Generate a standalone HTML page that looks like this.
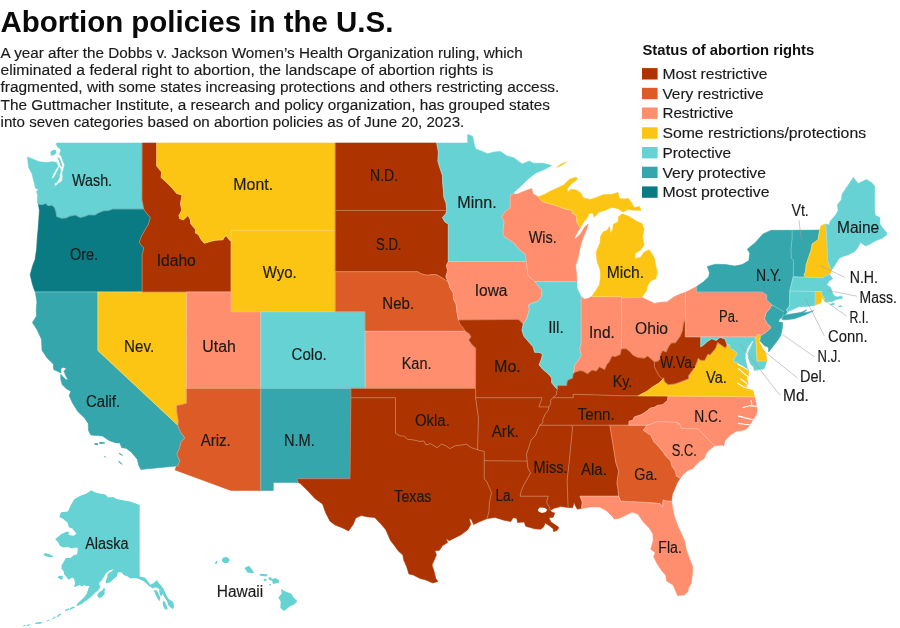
<!DOCTYPE html>
<html><head><meta charset="utf-8"><title>Abortion policies in the U.S.</title>
<style>
html,body{margin:0;padding:0;background:#fff}
body{width:900px;height:628px;overflow:hidden;font-family:"Liberation Sans",sans-serif}
svg{display:block}
text{font-family:"Liberation Sans",sans-serif;fill:#1a1a1a}
</style></head><body>
<svg style="will-change:transform" width="900" height="628" viewBox="0 0 900 628">
<rect width="900" height="628" fill="#ffffff"/>
<g stroke-linejoin="round">
<path d="M56.8,143.0 142.1,143.0 142.0,200.1 143.0,204.8 143.7,209.1 112.8,209.1 108.3,210.6 103.9,210.8 98.7,212.7 94.9,215.1 88.2,214.9 84.5,216.6 80.1,217.6 75.3,215.1 69.6,216.2 65.9,218.1 61.5,218.3 56.7,216.6 55.9,211.7 54.5,207.4 51.8,205.2 48.1,205.9 45.8,203.5 42.1,204.8 38.4,204.2 37.3,202.7 37.6,195.1 36.6,191.8 38.4,189.0 35.7,188.6 33.6,180.5 32.1,173.9 28.7,167.7 28.0,162.1 27.5,157.0 33.2,159.2 39.1,161.7 46.6,162.6 51.8,161.7 56.5,162.3 58.0,166.6 55.5,169.9 52.5,175.4 51.5,179.2 54.0,177.6 57.4,171.0 59.5,167.0 60.7,169.9 60.0,173.9 58.9,178.7 57.0,182.0 54.3,183.6 54.8,186.4 59.2,183.1 61.9,180.9 62.9,176.5 62.2,173.2 63.7,168.8 64.7,164.8 62.5,159.9 61.5,156.5 59.2,153.8 60.7,151.6 60.4,148.7 58.5,148.0 56.2,144.6 56.8,143.0Z" fill="#66d2d3" stroke="#66d2d3" stroke-width="0.6"/>
<path d="M38.4,204.2 42.1,204.8 45.8,203.5 48.1,205.9 51.8,205.2 54.5,207.4 55.9,211.7 56.7,216.6 61.5,218.3 65.9,218.1 69.6,216.2 75.3,215.1 80.1,217.6 84.5,216.6 88.2,214.9 94.9,215.1 98.7,212.7 103.9,210.8 108.3,210.6 112.8,209.1 143.7,209.1 146.7,213.4 150.3,217.6 148.5,224.0 144.8,230.3 141.8,235.6 139.3,241.9 141.1,245.4 143.6,247.5 143.3,250.6 142.1,254.7 142.1,291.9 97.9,291.9 35.3,291.9 33.6,287.9 32.1,282.9 30.2,274.8 32.7,265.6 35.1,259.4 36.6,249.1 37.3,237.7 38.1,229.3 38.8,219.8 39.4,210.2 38.4,204.2Z" fill="#0a7a83" stroke="#0a7a83" stroke-width="0.6"/>
<path d="M35.3,291.9 97.9,291.9 97.9,350.6 177.8,425.2 178.7,427.9 180.8,432.4 185.0,438.2 181.2,441.4 179.4,448.6 176.8,454.0 179.7,460.5 178.0,465.9 176.5,466.0 140.8,469.4 138.8,465.5 137.3,459.3 131.4,452.2 126.2,448.3 121.7,447.7 119.9,442.9 115.8,442.9 109.1,440.5 102.4,436.0 90.9,435.1 88.5,430.6 88.2,423.4 84.5,417.9 77.8,411.5 72.6,403.2 69.2,395.8 70.8,391.2 66.7,389.0 62.2,384.7 60.7,379.0 60.7,374.2 62.5,376.2 65.9,379.6 68.1,380.0 65.5,375.3 64.0,371.1 66.4,368.5 62.9,367.2 60.7,369.1 61.0,372.8 60.0,372.5 53.7,369.6 53.3,364.0 47.3,358.3 42.1,350.6 41.4,339.1 36.9,329.4 32.4,322.6 36.6,315.7 36.2,310.8 36.9,301.9 35.3,291.9Z" fill="#35a6ab" stroke="#35a6ab" stroke-width="0.6"/>
<path d="M97.9,291.9 142.1,291.9 186.6,291.9 186.4,388.4 186.4,403.2 182.0,404.5 176.5,405.4 176.8,412.4 178.3,421.5 177.8,425.2 97.9,350.6 97.9,291.9Z" fill="#fdc513" stroke="#fdc513" stroke-width="0.6"/>
<path d="M142.1,143.0 156.7,143.0 156.7,165.9 161.6,172.1 161.1,177.6 164.9,180.9 170.8,186.4 173.1,189.2 176.8,193.6 182.0,194.9 180.5,203.7 181.7,210.2 179.0,215.5 179.7,218.7 183.5,219.8 187.9,215.5 190.2,219.3 190.9,224.0 195.4,229.3 195.4,232.9 198.3,234.5 201.3,239.8 204.3,243.3 211.0,241.2 215.5,240.2 222.9,239.8 224.7,236.6 226.6,236.0 228.9,239.4 231.1,241.2 231.1,291.9 186.6,291.9 142.1,291.9 142.1,254.7 143.3,250.6 143.6,247.5 141.1,245.4 139.3,241.9 141.8,235.6 144.8,230.3 148.5,224.0 150.3,217.6 146.7,213.4 143.7,209.1 143.0,204.8 142.0,200.1 142.1,143.0Z" fill="#ad3400" stroke="#ad3400" stroke-width="0.6"/>
<path d="M156.7,143.0 335.2,143.0 335.2,210.4 335.2,230.3 231.1,230.3 231.1,241.2 228.9,239.4 226.6,236.0 224.7,236.6 222.9,239.8 215.5,240.2 211.0,241.2 204.3,243.3 201.3,239.8 198.3,234.5 195.4,232.9 195.4,229.3 190.9,224.0 190.2,219.3 187.9,215.5 183.5,219.8 179.7,218.7 179.0,215.5 181.7,210.2 180.5,203.7 182.0,194.9 176.8,193.6 173.1,189.2 170.8,186.4 164.9,180.9 161.1,177.6 161.6,172.1 156.7,165.9 156.7,143.0Z" fill="#fdc513" stroke="#fdc513" stroke-width="0.6"/>
<path d="M231.1,241.2 231.1,230.3 335.2,230.3 335.2,271.7 335.2,311.8 260.8,311.8 231.1,311.8 231.1,291.9 231.1,241.2Z" fill="#fdc513" stroke="#fdc513" stroke-width="0.6"/>
<path d="M186.6,291.9 231.1,291.9 231.1,311.8 260.8,311.8 260.8,388.4 186.4,388.4 186.6,291.9Z" fill="#ff8e6e" stroke="#ff8e6e" stroke-width="0.6"/>
<path d="M260.8,311.8 335.2,311.8 365.0,311.8 365.0,331.3 365.2,388.4 350.9,388.4 260.8,388.4 260.8,311.8Z" fill="#66d2d3" stroke="#66d2d3" stroke-width="0.6"/>
<path d="M186.4,388.4 260.8,388.4 260.8,490.4 230.8,490.4 175.1,469.9 176.5,466.0 178.0,465.9 179.7,460.5 176.8,454.0 179.4,448.6 181.2,441.4 185.0,438.2 180.8,432.4 178.7,427.9 177.8,425.2 178.3,421.5 176.8,412.4 176.5,405.4 182.0,404.5 186.4,403.2 186.4,388.4Z" fill="#dc5b27" stroke="#dc5b27" stroke-width="0.6"/>
<path d="M260.8,388.4 350.9,388.4 350.9,397.7 350.0,478.7 296.9,478.7 298.3,482.6 273.3,482.6 273.3,490.4 260.8,490.4 260.8,388.4Z" fill="#35a6ab" stroke="#35a6ab" stroke-width="0.6"/>
<path d="M335.2,143.0 436.7,143.0 438.4,152.0 437.9,161.0 439.7,167.2 442.4,175.4 442.7,183.1 443.4,190.3 443.9,197.3 446.1,203.3 446.7,210.4 335.2,210.4 335.2,143.0Z" fill="#ad3400" stroke="#ad3400" stroke-width="0.6"/>
<path d="M335.2,210.4 446.7,210.4 445.8,213.8 442.4,217.6 444.9,221.9 448.3,224.0 448.3,261.5 446.4,265.6 447.6,270.7 445.8,276.8 448.3,282.1 444.6,279.4 440.9,277.2 436.9,274.8 432.7,274.6 426.8,275.2 420.8,273.7 417.8,271.7 335.2,271.7 335.2,230.3 335.2,210.4Z" fill="#ad3400" stroke="#ad3400" stroke-width="0.6"/>
<path d="M335.2,271.7 417.8,271.7 420.8,273.7 426.8,275.2 432.7,274.6 436.9,274.8 440.9,277.2 444.6,279.4 448.3,282.1 449.8,287.5 453.2,292.9 453.5,298.9 456.2,304.8 456.8,310.8 457.6,315.7 458.4,320.0 460.2,324.5 463.2,327.8 465.3,331.3 365.0,331.3 365.0,311.8 335.2,311.8 335.2,271.7Z" fill="#dc5b27" stroke="#dc5b27" stroke-width="0.6"/>
<path d="M365.0,331.3 465.3,331.3 469.2,333.7 470.9,336.8 468.7,340.0 471.4,343.9 475.7,348.3 475.6,388.4 365.2,388.4 365.0,331.3Z" fill="#ff8e6e" stroke="#ff8e6e" stroke-width="0.6"/>
<path d="M350.9,388.4 365.2,388.4 475.6,388.4 475.6,397.7 478.4,417.9 477.6,449.7 471.4,447.7 466.2,444.1 461.7,445.0 455.8,445.6 449.8,448.6 446.1,445.9 441.6,444.1 437.2,447.7 430.5,443.6 426.0,445.0 423.8,440.9 419.3,441.4 416.3,440.5 411.1,439.6 407.4,439.3 404.4,436.0 400.0,436.0 395.5,433.2 395.5,397.7 350.9,397.7 350.9,388.4Z" fill="#ad3400" stroke="#ad3400" stroke-width="0.6"/>
<path d="M298.3,482.6 296.9,478.7 350.0,478.7 350.9,397.7 395.5,397.7 395.5,433.2 400.0,436.0 404.4,436.0 407.4,439.3 411.1,439.6 416.3,440.5 419.3,441.4 423.8,440.9 426.0,445.0 430.5,443.6 437.2,447.7 441.6,444.1 446.1,445.9 449.8,448.6 455.8,445.6 461.7,445.0 466.2,444.1 471.4,447.7 477.6,449.7 481.1,450.8 484.2,451.3 484.2,460.7 484.2,478.7 487.0,482.2 491.5,492.7 489.3,503.1 489.0,510.9 487.2,518.6 478.8,522.0 473.6,524.6 471.4,519.5 469.2,518.6 470.7,524.6 467.7,529.7 461.0,534.8 455.0,537.7 449.1,540.7 446.1,538.2 447.6,542.4 442.4,545.8 439.4,550.3 434.9,550.8 436.4,555.0 434.2,560.1 432.0,565.1 434.2,571.8 435.7,578.4 437.9,581.5 432.7,582.9 426.0,580.1 420.1,578.4 413.4,575.1 408.9,573.9 406.7,566.8 403.7,560.1 402.9,555.0 398.5,551.2 394.0,544.9 390.6,540.7 385.8,529.7 381.4,524.6 374.7,517.4 368.0,516.9 361.3,515.5 355.8,517.9 353.1,524.6 348.6,530.9 342.7,528.0 335.2,525.1 330.0,521.2 325.6,512.6 322.6,504.0 315.2,498.8 307.0,490.1 300.3,483.5 298.3,482.6Z" fill="#ad3400" stroke="#ad3400" stroke-width="0.6"/>
<path d="M436.7,143.0 467.7,143.0 467.7,134.4 472.6,136.2 474.4,145.3 475.6,148.9 481.1,150.9 487.8,153.8 493.7,152.0 500.4,151.6 507.1,156.1 513.8,157.7 522.0,163.9 529.4,161.0 533.1,163.2 542.8,163.2 551.7,165.5 544.3,169.5 535.4,173.2 527.9,179.2 520.5,186.4 514.5,191.8 513.1,194.0 510.2,194.9 510.2,207.6 505.6,211.2 501.5,216.6 504.1,221.5 503.1,229.3 503.1,235.6 508.6,239.6 513.8,242.9 518.7,249.1 525.0,253.9 526.2,261.5 448.3,261.5 448.3,224.0 444.9,221.9 442.4,217.6 445.8,213.8 446.7,210.4 446.1,203.3 443.9,197.3 443.4,190.3 442.7,183.1 442.4,175.4 439.7,167.2 437.9,161.0 438.4,152.0 436.7,143.0Z" fill="#66d2d3" stroke="#66d2d3" stroke-width="0.6"/>
<path d="M448.3,261.5 526.2,261.5 527.2,268.7 527.6,274.8 531.7,278.8 534.8,281.6 538.4,285.9 541.8,289.9 541.8,295.9 538.4,300.9 532.4,302.9 528.4,305.2 529.4,308.8 527.9,314.7 526.5,319.2 523.2,323.9 521.7,322.6 518.6,319.4 458.4,320.0 457.6,315.7 456.8,310.8 456.2,304.8 453.5,298.9 453.2,292.9 449.8,287.5 448.3,282.1 445.8,276.8 447.6,270.7 446.4,265.6 448.3,261.5Z" fill="#ff8e6e" stroke="#ff8e6e" stroke-width="0.6"/>
<path d="M458.4,320.0 518.6,319.4 521.7,322.6 523.2,323.9 522.0,330.4 523.9,336.2 527.9,341.0 533.1,346.8 534.6,352.2 539.8,352.5 542.5,354.4 541.3,359.2 539.1,364.9 542.8,369.3 548.8,374.3 551.7,378.1 551.7,382.8 555.5,387.5 557.3,388.8 556.2,394.9 552.9,397.7 550.3,400.5 551.0,403.2 548.8,406.9 538.8,406.9 540.6,402.3 542.1,397.7 475.6,397.7 475.6,388.4 475.7,348.3 471.4,343.9 468.7,340.0 470.9,336.8 469.2,333.7 465.3,331.3 463.2,327.8 460.2,324.5 458.4,320.0Z" fill="#ad3400" stroke="#ad3400" stroke-width="0.6"/>
<path d="M548.8,406.9 538.8,406.9 540.6,402.3 542.1,397.7 475.6,397.7 478.4,417.9 477.6,449.7 481.1,450.8 484.2,451.3 484.2,460.7 527.2,461.1 526.5,454.0 528.7,447.7 530.9,440.5 535.7,435.1 537.6,429.7 539.8,425.2 542.8,422.8 542.8,419.7 545.1,414.2 548.0,410.6 548.8,406.9Z" fill="#ad3400" stroke="#ad3400" stroke-width="0.6"/>
<path d="M484.2,460.7 527.2,461.1 527.9,468.2 530.6,473.1 527.9,477.8 523.5,485.4 521.2,491.0 520.1,496.2 548.3,496.2 546.5,502.2 549.1,506.6 550.3,510.4 551.7,512.1 554.7,513.1 553.2,517.2 548.8,517.7 551.0,522.0 555.5,525.1 558.9,527.5 557.0,530.5 553.5,531.4 553.2,528.8 549.5,525.8 545.1,522.9 543.6,527.1 540.6,529.2 534.6,528.8 530.2,527.5 525.7,526.3 524.2,522.0 517.5,522.4 516.8,518.3 513.1,517.7 510.8,521.5 504.1,520.3 495.2,517.4 487.2,518.6 489.0,510.9 489.3,503.1 491.5,492.7 487.0,482.2 484.2,478.7 484.2,460.7Z" fill="#ad3400" stroke="#ad3400" stroke-width="0.6"/>
<path d="M513.1,194.0 517.5,194.0 526.5,190.3 531.7,188.6 533.1,194.0 538.1,196.8 542.5,201.6 557.7,206.1 563.7,208.7 571.8,210.2 572.6,213.4 576.3,215.5 577.0,223.0 579.3,226.1 580.0,228.2 577.8,231.4 574.1,238.7 575.6,238.7 580.8,233.5 584.5,227.2 588.2,224.0 586.7,229.3 583.0,237.7 580.8,245.0 579.3,251.2 578.2,257.4 575.6,265.6 576.3,272.7 577.0,281.8 534.8,281.6 531.7,278.8 527.6,274.8 527.2,268.7 526.2,261.5 525.0,253.9 518.7,249.1 513.8,242.9 508.6,239.6 503.1,235.6 503.1,229.3 504.1,221.5 501.5,216.6 505.6,211.2 510.2,207.6 510.2,194.9 513.1,194.0Z" fill="#ff8e6e" stroke="#ff8e6e" stroke-width="0.6"/>
<path d="M534.8,281.6 577.0,281.8 577.0,287.9 579.7,293.9 581.1,296.7 581.1,343.9 579.7,348.7 581.5,355.4 577.8,361.1 574.8,364.9 574.1,369.6 573.3,373.4 572.6,378.1 567.4,380.5 566.6,385.6 562.2,385.6 557.7,385.6 557.3,388.8 555.5,387.5 551.7,382.8 551.7,378.1 548.8,374.3 542.8,369.3 539.1,364.9 541.3,359.2 542.5,354.4 539.8,352.5 534.6,352.2 533.1,346.8 527.9,341.0 523.9,336.2 522.0,330.4 523.2,323.9 526.5,319.2 527.9,314.7 529.4,308.8 528.4,305.2 532.4,302.9 538.4,300.9 541.8,295.9 541.8,289.9 538.4,285.9 534.8,281.6Z" fill="#66d2d3" stroke="#66d2d3" stroke-width="0.6"/>
<path d="M581.1,296.7 584.5,299.3 588.2,298.3 591.6,296.7 621.7,296.7 621.7,297.9 621.4,348.7 620.2,354.4 615.7,356.4 612.0,356.0 609.0,362.1 606.8,364.5 604.6,369.6 599.4,366.8 596.4,371.0 591.9,370.0 587.5,373.8 583.0,371.0 580.0,370.6 575.6,371.9 573.3,373.4 574.1,369.6 574.8,364.9 577.8,361.1 581.5,355.4 579.7,348.7 581.1,343.9 581.1,296.7Z" fill="#ff8e6e" stroke="#ff8e6e" stroke-width="0.6"/>
<path d="M591.6,296.7 595.6,290.9 599.4,284.9 600.6,276.8 600.1,269.7 597.1,261.5 596.1,252.2 600.1,242.9 600.6,236.2 603.1,232.0 607.1,230.3 609.5,226.5 610.5,233.5 612.8,229.3 613.1,224.4 618.0,221.9 618.7,216.6 622.4,213.8 629.1,216.6 635.8,220.8 641.8,223.6 644.0,229.3 642.5,236.6 644.0,245.0 640.3,250.2 635.1,253.3 635.1,258.4 640.3,257.4 644.0,252.2 649.2,249.8 654.1,257.4 655.9,266.6 657.1,271.7 655.9,278.8 650.7,280.8 647.7,285.5 646.2,290.9 641.8,297.3 621.7,297.9 621.7,296.7 591.6,296.7ZM538.1,196.8 544.3,194.5 550.3,191.2 556.2,188.6 563.7,184.9 569.6,179.2 575.6,177.2 577.8,178.7 571.1,184.2 567.4,188.6 567.4,192.3 571.1,189.2 576.3,190.1 580.8,192.9 583.3,197.9 590.4,199.4 597.1,197.3 603.1,194.7 611.3,194.5 618.0,192.5 619.5,198.4 624.7,199.0 628.4,198.4 631.4,202.7 634.3,207.6 639.5,206.5 641.0,210.2 634.3,210.2 627.6,209.5 622.9,211.9 618.0,208.5 611.3,207.4 605.3,210.2 598.6,212.3 594.2,217.2 592.7,213.0 588.9,213.8 587.5,217.6 583.7,221.9 580.0,228.2 579.3,226.1 577.0,223.0 576.3,215.5 572.6,213.4 571.8,210.2 563.7,208.7 557.7,206.1 542.5,201.6 538.1,196.8Z" fill="#fdc513" stroke="#fdc513" stroke-width="0.6"/>
<path d="M621.7,297.9 641.8,297.3 647.0,299.9 651.4,301.9 654.4,303.5 660.4,302.3 667.1,301.9 673.8,296.9 679.7,294.3 685.4,292.3 685.4,318.8 683.4,323.5 682.4,330.4 680.2,336.2 675.3,342.9 671.5,342.9 669.3,345.4 667.1,349.7 666.3,352.0 662.6,350.6 660.4,354.4 660.4,358.3 658.1,361.1 654.4,361.7 650.7,358.6 647.7,356.0 644.0,358.3 637.3,357.3 632.8,355.0 629.9,351.6 626.1,348.7 621.4,348.7 621.7,297.9 621.7,296.7Z" fill="#ff8e6e" stroke="#ff8e6e" stroke-width="0.6"/>
<path d="M621.4,348.7 626.1,348.7 629.9,351.6 632.8,355.0 637.3,357.3 644.0,358.3 647.7,356.0 650.7,358.6 654.4,361.7 654.4,366.8 656.7,371.5 658.9,375.3 661.1,378.1 663.8,378.3 658.9,383.2 652.6,386.9 647.0,391.2 638.3,395.8 621.7,395.8 596.4,394.9 573.0,394.3 573.3,397.7 552.9,397.7 556.2,394.9 557.3,388.8 557.7,385.6 562.2,385.6 566.6,385.6 567.4,380.5 572.6,378.1 573.3,373.4 575.6,371.9 580.0,370.6 583.0,371.0 587.5,373.8 591.9,370.0 596.4,371.0 599.4,366.8 604.6,369.6 606.8,364.5 609.0,362.1 612.0,356.0 615.7,356.4 620.2,354.4 621.4,348.7Z" fill="#ad3400" stroke="#ad3400" stroke-width="0.6"/>
<path d="M552.9,397.7 573.3,397.7 573.0,394.3 596.4,394.9 621.7,395.8 638.3,395.8 668.1,396.0 667.5,400.5 662.6,404.7 657.4,405.4 654.4,407.3 650.0,408.2 647.0,411.1 641.0,414.8 634.3,417.0 632.8,420.3 629.1,421.2 628.8,425.2 609.8,425.2 571.1,425.2 539.8,425.2 542.8,422.8 542.8,419.7 545.1,414.2 548.0,410.6 548.8,406.9 551.0,403.2 550.3,400.5 552.9,397.7Z" fill="#ad3400" stroke="#ad3400" stroke-width="0.6"/>
<path d="M539.8,425.2 571.1,425.2 572.6,427.0 569.2,462.0 567.1,480.5 568.1,507.4 560.7,506.6 554.0,508.3 550.3,510.4 549.1,506.6 546.5,502.2 548.3,496.2 520.1,496.2 521.2,491.0 523.5,485.4 527.9,477.8 530.6,473.1 527.9,468.2 527.2,461.1 526.5,454.0 528.7,447.7 530.9,440.5 535.7,435.1 537.6,429.7 539.8,425.2Z" fill="#ad3400" stroke="#ad3400" stroke-width="0.6"/>
<path d="M571.1,425.2 609.8,425.2 612.8,443.2 616.0,463.4 618.7,470.8 617.7,477.0 616.9,483.1 618.0,489.2 618.7,496.2 580.0,496.2 582.3,502.2 581.5,508.6 577.3,509.1 575.3,505.7 574.1,502.2 572.6,507.8 568.1,507.4 567.1,480.5 569.2,462.0 572.6,427.0 571.1,425.2Z" fill="#ad3400" stroke="#ad3400" stroke-width="0.6"/>
<path d="M609.8,425.2 628.8,425.2 647.0,425.2 643.3,430.3 647.0,432.8 650.7,435.1 653.7,441.4 658.1,445.9 663.3,452.2 665.6,455.8 670.8,461.1 672.0,466.4 675.3,470.8 676.4,476.1 680.2,478.2 677.5,482.2 675.3,487.5 672.3,494.4 671.5,501.2 666.3,501.0 663.0,500.0 662.6,507.1 660.1,503.6 648.5,502.6 620.6,501.2 618.7,496.2 618.0,489.2 616.9,483.1 617.7,477.0 618.7,470.8 616.0,463.4 612.8,443.2 609.8,425.2Z" fill="#dc5b27" stroke="#dc5b27" stroke-width="0.6"/>
<path d="M618.7,496.2 620.6,501.2 648.5,502.6 660.1,503.6 662.6,507.1 663.0,500.0 666.3,501.0 671.5,501.2 672.6,508.3 674.5,516.9 678.2,527.1 681.9,534.8 684.5,540.7 686.4,550.0 689.4,558.4 692.7,566.8 692.4,574.2 691.2,583.4 688.6,587.5 687.9,591.6 684.2,594.9 677.5,595.4 676.0,591.6 673.0,585.0 666.6,580.9 665.6,575.1 661.9,570.9 657.4,564.3 653.7,556.7 655.2,552.5 650.7,549.2 653.2,540.7 652.9,533.9 649.2,528.0 643.3,522.0 638.1,514.3 632.1,512.1 627.6,514.3 619.5,518.3 614.2,518.9 612.8,516.9 606.8,510.9 599.4,506.9 590.4,506.9 581.5,508.6 582.3,502.2 580.0,496.2 618.7,496.2Z" fill="#ff8e6e" stroke="#ff8e6e" stroke-width="0.6"/>
<path d="M647.0,425.2 652.2,423.7 657.7,421.5 677.5,422.5 677.8,424.3 679.3,423.4 681.5,428.4 697.9,428.8 714.7,445.7 708.7,450.4 705.8,454.0 704.3,458.4 699.8,461.1 695.3,465.5 693.1,468.2 687.2,470.8 683.4,474.3 680.2,478.2 676.4,476.1 675.3,470.8 672.0,466.4 670.8,461.1 665.6,455.8 663.3,452.2 658.1,445.9 653.7,441.4 650.7,435.1 647.0,432.8 643.3,430.3 647.0,425.2Z" fill="#ff8e6e" stroke="#ff8e6e" stroke-width="0.6"/>
<path d="M668.1,396.0 754.6,396.8 755.6,401.4 756.8,406.9 757.1,410.6 756.2,415.0 752.6,420.6 749.2,426.1 745.9,429.2 742.2,430.6 736.3,431.2 730.3,435.1 725.1,440.5 723.6,445.9 722.1,445.0 714.7,445.7 697.9,428.8 681.5,428.4 679.3,423.4 677.8,424.3 677.5,422.5 657.7,421.5 652.2,423.7 647.0,425.2 628.8,425.2 629.1,421.2 632.8,420.3 634.3,417.0 641.0,414.8 647.0,411.1 650.0,408.2 654.4,407.3 657.4,405.4 662.6,404.7 667.5,400.5 668.1,396.0Z" fill="#ff8e6e" stroke="#ff8e6e" stroke-width="0.6"/>
<path d="M668.1,396.0 754.6,396.8 752.9,390.3 748.2,389.3 745.9,384.7 748.2,383.7 746.7,378.1 748.2,376.2 748.9,371.5 743.7,366.8 738.5,364.9 737.0,362.1 733.3,362.4 734.8,357.3 737.3,354.4 736.3,352.0 733.3,349.7 730.3,348.7 729.6,344.9 727.0,344.5 725.4,348.1 717.7,342.6 715.4,348.7 709.9,355.0 708.0,354.1 704.6,360.5 700.5,360.2 698.3,358.3 696.1,364.5 693.1,369.6 688.6,375.7 688.6,378.7 680.5,381.9 674.8,383.9 668.1,384.7 664.4,381.5 663.8,378.3 658.9,383.2 652.6,386.9 647.0,391.2 638.3,395.8 668.1,396.0Z" fill="#fdc513" stroke="#fdc513" stroke-width="0.6"/>
<path d="M685.4,318.8 683.4,323.5 682.4,330.4 680.2,336.2 675.3,342.9 671.5,342.9 669.3,345.4 667.1,349.7 666.3,352.0 662.6,350.6 660.4,354.4 660.4,358.3 658.1,361.1 654.4,361.7 654.4,366.8 656.7,371.5 658.9,375.3 661.1,378.1 663.8,378.3 664.4,381.5 668.1,384.7 674.8,383.9 680.5,381.9 688.6,378.7 688.6,375.7 693.1,369.6 696.1,364.5 698.3,358.3 700.5,360.2 704.6,360.5 708.0,354.1 709.9,355.0 715.4,348.7 717.7,342.6 725.4,348.1 727.0,344.5 725.1,339.1 720.2,337.2 716.2,340.4 711.7,338.7 707.2,341.6 703.5,344.9 700.8,346.8 700.8,336.8 685.4,336.8 685.4,318.8Z" fill="#ad3400" stroke="#ad3400" stroke-width="0.6"/>
<path d="M700.8,336.8 755.8,336.8 757.1,360.9 766.8,361.1 764.5,367.7 763.8,369.1 757.8,370.0 754.4,370.6 753.4,366.8 750.4,364.0 748.5,358.3 748.2,352.5 750.4,347.7 753.7,341.0 752.2,341.0 748.2,346.8 745.5,352.5 745.2,358.3 746.4,364.0 747.4,367.7 748.9,371.5 743.7,366.8 738.5,364.9 737.0,362.1 733.3,362.4 734.8,357.3 737.3,354.4 736.3,352.0 733.3,349.7 730.3,348.7 729.6,344.9 727.0,344.5 725.1,339.1 720.2,337.2 716.2,340.4 711.7,338.7 707.2,341.6 703.5,344.9 700.8,346.8 700.8,336.8Z" fill="#66d2d3" stroke="#66d2d3" stroke-width="0.6"/>
<path d="M755.8,336.8 757.1,360.9 766.8,361.1 766.0,354.4 762.3,347.7 759.3,342.0 759.3,338.7 761.3,335.2 759.3,334.4 757.1,334.8 755.8,336.8Z" fill="#fdc513" stroke="#fdc513" stroke-width="0.6"/>
<path d="M761.3,335.2 766.0,332.3 771.2,327.4 766.8,323.2 764.5,318.7 766.0,312.8 769.7,308.8 772.0,304.7 783.9,311.8 783.6,313.3 781.9,317.7 779.4,319.0 778.7,322.0 782.7,322.6 782.4,327.4 780.9,335.2 777.9,340.0 773.5,345.8 768.7,352.0 768.3,347.2 764.5,345.8 760.1,341.0 761.3,335.2Z" fill="#35a6ab" stroke="#35a6ab" stroke-width="0.6"/>
<path d="M772.0,304.7 766.8,299.9 766.8,294.9 762.3,291.9 696.7,291.9 696.7,286.5 690.9,289.5 685.4,292.3 685.4,318.8 685.4,336.8 700.8,336.8 755.8,336.8 757.1,334.8 759.3,334.4 761.3,335.2 766.0,332.3 771.2,327.4 766.8,323.2 764.5,318.7 766.0,312.8 769.7,308.8 772.0,304.7Z" fill="#ff8e6e" stroke="#ff8e6e" stroke-width="0.6"/>
<path d="M696.7,286.5 703.5,281.8 708.7,276.8 709.5,272.7 707.2,266.6 715.4,264.2 725.8,264.6 734.8,266.0 742.2,264.6 748.9,260.5 749.7,253.3 747.4,249.1 754.9,242.9 763.0,233.9 771.2,230.3 792.1,230.3 792.1,238.7 791.0,249.1 791.3,258.4 793.5,260.5 793.2,276.8 789.8,290.9 789.5,305.8 786.4,309.8 787.6,311.8 785.4,314.7 783.6,315.7 783.1,312.8 783.9,311.8 772.0,304.7 766.8,299.9 766.8,294.9 762.3,291.9 696.7,291.9 696.7,286.5ZM781.9,319.6 786.1,319.8 794.3,318.7 804.7,315.1 813.6,310.8 807.7,312.2 803.2,313.1 806.9,309.8 801.0,312.4 794.3,313.5 786.9,314.7 783.4,316.1Z" fill="#35a6ab" stroke="#35a6ab" stroke-width="0.6"/>
<path d="M792.1,230.3 819.6,230.1 818.1,239.8 812.1,243.9 811.1,250.2 808.9,256.4 806.2,264.6 805.5,271.7 804.0,274.8 805.3,277.2 793.2,276.8 793.5,260.5 791.3,258.4 791.0,249.1 792.1,238.7 792.1,230.3Z" fill="#35a6ab" stroke="#35a6ab" stroke-width="0.6"/>
<path d="M819.6,230.1 821.1,225.7 824.1,224.4 825.8,224.0 827.0,245.0 827.5,260.1 829.7,266.6 831.5,270.3 829.7,274.4 826.3,275.4 822.9,277.8 805.3,277.2 804.0,274.8 805.5,271.7 806.2,264.6 808.9,256.4 811.1,250.2 812.1,243.9 818.1,239.8 819.6,230.1Z" fill="#fdc513" stroke="#fdc513" stroke-width="0.6"/>
<path d="M825.8,224.0 829.3,225.1 830.0,221.5 836.0,214.5 838.2,210.2 837.4,204.8 841.2,200.1 842.2,194.0 853.4,177.4 856.0,180.9 858.3,183.6 866.5,179.6 871.7,182.7 874.6,186.0 874.6,211.2 875.4,215.5 879.9,217.6 879.9,224.0 882.1,227.2 886.5,232.4 887.0,234.5 882.1,238.3 875.4,240.8 870.2,243.9 865.7,246.0 860.5,242.5 857.5,248.1 854.6,251.6 847.9,254.9 842.7,256.4 838.9,258.4 836.0,263.6 833.3,267.6 831.5,270.3 829.7,266.6 827.5,260.1 827.0,245.0 825.8,224.0Z" fill="#66d2d3" stroke="#66d2d3" stroke-width="0.6"/>
<path d="M793.2,276.8 805.3,277.2 822.9,277.8 826.3,275.4 829.7,274.4 832.7,278.8 829.3,280.8 826.7,284.9 830.7,287.5 832.2,292.3 834.2,295.9 837.4,297.1 841.6,295.9 842.5,298.3 836.0,299.5 832.2,301.5 827.8,301.5 825.2,301.9 824.1,298.3 821.4,293.9 821.4,291.5 815.1,291.5 789.8,290.9 793.2,276.8Z" fill="#66d2d3" stroke="#66d2d3" stroke-width="0.6"/>
<path d="M825.2,301.9 824.1,298.3 821.4,293.9 821.4,291.5 815.1,291.5 815.1,303.9 814.4,305.4 820.8,302.9 821.4,297.5 823.3,298.9 825.2,301.9Z" fill="#fdc513" stroke="#fdc513" stroke-width="0.6"/>
<path d="M815.1,291.5 789.8,290.9 789.5,305.8 786.4,309.8 787.6,311.8 792.1,309.8 798.8,306.8 806.2,306.4 814.4,305.4 815.1,303.9 815.1,291.5Z" fill="#66d2d3" stroke="#66d2d3" stroke-width="0.6"/>
</g>
<path d="M38.4,204.2 42.1,204.8 45.8,203.5 48.1,205.9 51.8,205.2 54.5,207.4 55.9,211.7 56.7,216.6 61.5,218.3 65.9,218.1 69.6,216.2 75.3,215.1 80.1,217.6 84.5,216.6 88.2,214.9 94.9,215.1 98.7,212.7 103.9,210.8 108.3,210.6 112.8,209.1 143.7,209.1M142.1,143.0 142.0,200.1 143.0,204.8 143.7,209.1M143.7,209.1 146.7,213.4 150.3,217.6 148.5,224.0 144.8,230.3 141.8,235.6 139.3,241.9 141.1,245.4 143.6,247.5 143.3,250.6 142.1,254.7 142.1,291.9M35.3,291.9 97.9,291.9M97.9,291.9 142.1,291.9M142.1,291.9 186.6,291.9M186.6,291.9 231.1,291.9M156.7,143.0 156.7,165.9 161.6,172.1 161.1,177.6 164.9,180.9 170.8,186.4 173.1,189.2 176.8,193.6 182.0,194.9 180.5,203.7 181.7,210.2 179.0,215.5 179.7,218.7 183.5,219.8 187.9,215.5 190.2,219.3 190.9,224.0 195.4,229.3 195.4,232.9 198.3,234.5 201.3,239.8 204.3,243.3 211.0,241.2 215.5,240.2 222.9,239.8 224.7,236.6 226.6,236.0 228.9,239.4 231.1,241.2M231.1,241.2 231.1,291.9M231.1,241.2 231.1,230.3 335.2,230.3M335.2,143.0 335.2,210.4M335.2,210.4 335.2,230.3M335.2,230.3 335.2,271.7M335.2,271.7 335.2,311.8M335.2,311.8 260.8,311.8M260.8,311.8 231.1,311.8 231.1,291.9M260.8,311.8 260.8,388.4M186.6,291.9 186.4,388.4M186.4,388.4 260.8,388.4M260.8,388.4 350.9,388.4M260.8,388.4 260.8,490.4M97.9,291.9 97.9,350.6 177.8,425.2M177.8,425.2 178.7,427.9 180.8,432.4 185.0,438.2 181.2,441.4 179.4,448.6 176.8,454.0 179.7,460.5 178.0,465.9 176.5,466.0M186.4,388.4 186.4,403.2 182.0,404.5 176.5,405.4 176.8,412.4 178.3,421.5 177.8,425.2M298.3,482.6 296.9,478.7 350.0,478.7 350.9,397.7M350.9,397.7 350.9,388.4M335.2,210.4 446.7,210.4M436.7,143.0 438.4,152.0 437.9,161.0 439.7,167.2 442.4,175.4 442.7,183.1 443.4,190.3 443.9,197.3 446.1,203.3 446.7,210.4M446.7,210.4 445.8,213.8 442.4,217.6 444.9,221.9 448.3,224.0 448.3,261.5M448.3,261.5 446.4,265.6 447.6,270.7 445.8,276.8 448.3,282.1M335.2,271.7 417.8,271.7 420.8,273.7 426.8,275.2 432.7,274.6 436.9,274.8 440.9,277.2 444.6,279.4 448.3,282.1M448.3,282.1 449.8,287.5 453.2,292.9 453.5,298.9 456.2,304.8 456.8,310.8 457.6,315.7 458.4,320.0M458.4,320.0 460.2,324.5 463.2,327.8 465.3,331.3M465.3,331.3 365.0,331.3M365.0,331.3 365.0,311.8 335.2,311.8M365.0,331.3 365.2,388.4M350.9,388.4 365.2,388.4M365.2,388.4 475.6,388.4M465.3,331.3 469.2,333.7 470.9,336.8 468.7,340.0 471.4,343.9 475.7,348.3 475.6,388.4M475.6,388.4 475.6,397.7M475.6,397.7 478.4,417.9 477.6,449.7M350.9,397.7 395.5,397.7 395.5,433.2 400.0,436.0 404.4,436.0 407.4,439.3 411.1,439.6 416.3,440.5 419.3,441.4 423.8,440.9 426.0,445.0 430.5,443.6 437.2,447.7 441.6,444.1 446.1,445.9 449.8,448.6 455.8,445.6 461.7,445.0 466.2,444.1 471.4,447.7 477.6,449.7M477.6,449.7 481.1,450.8 484.2,451.3 484.2,460.7M484.2,460.7 527.2,461.1M484.2,460.7 484.2,478.7 487.0,482.2 491.5,492.7 489.3,503.1 489.0,510.9 487.2,518.6M513.1,194.0 510.2,194.9 510.2,207.6 505.6,211.2 501.5,216.6 504.1,221.5 503.1,229.3 503.1,235.6 508.6,239.6 513.8,242.9 518.7,249.1 525.0,253.9 526.2,261.5M448.3,261.5 526.2,261.5M526.2,261.5 527.2,268.7 527.6,274.8 531.7,278.8 534.8,281.6M534.8,281.6 538.4,285.9 541.8,289.9 541.8,295.9 538.4,300.9 532.4,302.9 528.4,305.2 529.4,308.8 527.9,314.7 526.5,319.2 523.2,323.9M458.4,320.0 518.6,319.4 521.7,322.6 523.2,323.9M523.2,323.9 522.0,330.4 523.9,336.2 527.9,341.0 533.1,346.8 534.6,352.2 539.8,352.5 542.5,354.4 541.3,359.2 539.1,364.9 542.8,369.3 548.8,374.3 551.7,378.1 551.7,382.8 555.5,387.5 557.3,388.8M557.3,388.8 556.2,394.9 552.9,397.7M552.9,397.7 550.3,400.5 551.0,403.2 548.8,406.9M548.8,406.9 538.8,406.9 540.6,402.3 542.1,397.7 475.6,397.7M548.8,406.9 548.0,410.6 545.1,414.2 542.8,419.7 542.8,422.8 539.8,425.2M539.8,425.2 537.6,429.7 535.7,435.1 530.9,440.5 528.7,447.7 526.5,454.0 527.2,461.1M527.2,461.1 527.9,468.2 530.6,473.1 527.9,477.8 523.5,485.4 521.2,491.0 520.1,496.2 548.3,496.2 546.5,502.2 549.1,506.6 550.3,510.4M538.1,196.8 542.5,201.6 557.7,206.1 563.7,208.7 571.8,210.2 572.6,213.4 576.3,215.5 577.0,223.0 579.3,226.1 580.0,228.2M577.0,281.8 534.8,281.6M581.1,296.7 581.1,343.9 579.7,348.7 581.5,355.4 577.8,361.1 574.8,364.9 574.1,369.6 573.3,373.4M573.3,373.4 572.6,378.1 567.4,380.5 566.6,385.6 562.2,385.6 557.7,385.6 557.3,388.8M591.6,296.7 621.7,296.7M621.7,296.7 621.7,297.9 621.4,348.7M621.4,348.7 620.2,354.4 615.7,356.4 612.0,356.0 609.0,362.1 606.8,364.5 604.6,369.6 599.4,366.8 596.4,371.0 591.9,370.0 587.5,373.8 583.0,371.0 580.0,370.6 575.6,371.9 573.3,373.4M641.8,297.3 621.7,297.9M685.4,292.3 685.4,318.8M685.4,318.8 683.4,323.5 682.4,330.4 680.2,336.2 675.3,342.9 671.5,342.9 669.3,345.4 667.1,349.7 666.3,352.0 662.6,350.6 660.4,354.4 660.4,358.3 658.1,361.1 654.4,361.7M654.4,361.7 650.7,358.6 647.7,356.0 644.0,358.3 637.3,357.3 632.8,355.0 629.9,351.6 626.1,348.7 621.4,348.7M654.4,361.7 654.4,366.8 656.7,371.5 658.9,375.3 661.1,378.1 663.8,378.3M663.8,378.3 658.9,383.2 652.6,386.9 647.0,391.2 638.3,395.8M638.3,395.8 621.7,395.8 596.4,394.9 573.0,394.3 573.3,397.7 552.9,397.7M638.3,395.8 668.1,396.0M668.1,396.0 667.5,400.5 662.6,404.7 657.4,405.4 654.4,407.3 650.0,408.2 647.0,411.1 641.0,414.8 634.3,417.0 632.8,420.3 629.1,421.2 628.8,425.2M628.8,425.2 609.8,425.2M609.8,425.2 571.1,425.2M571.1,425.2 539.8,425.2M571.1,425.2 572.6,427.0 569.2,462.0 567.1,480.5 568.1,507.4M609.8,425.2 612.8,443.2 616.0,463.4 618.7,470.8 617.7,477.0 616.9,483.1 618.0,489.2 618.7,496.2M618.7,496.2 580.0,496.2 582.3,502.2 581.5,508.6M618.7,496.2 620.6,501.2 648.5,502.6 660.1,503.6 662.6,507.1 663.0,500.0 666.3,501.0 671.5,501.2M680.2,478.2 676.4,476.1 675.3,470.8 672.0,466.4 670.8,461.1 665.6,455.8 663.3,452.2 658.1,445.9 653.7,441.4 650.7,435.1 647.0,432.8 643.3,430.3 647.0,425.2M647.0,425.2 628.8,425.2M647.0,425.2 652.2,423.7 657.7,421.5 677.5,422.5 677.8,424.3 679.3,423.4 681.5,428.4 697.9,428.8 714.7,445.7M668.1,396.0 754.6,396.8M748.9,371.5 743.7,366.8 738.5,364.9 737.0,362.1 733.3,362.4 734.8,357.3 737.3,354.4 736.3,352.0 733.3,349.7 730.3,348.7 729.6,344.9 727.0,344.5M727.0,344.5 725.4,348.1 717.7,342.6 715.4,348.7 709.9,355.0 708.0,354.1 704.6,360.5 700.5,360.2 698.3,358.3 696.1,364.5 693.1,369.6 688.6,375.7 688.6,378.7 680.5,381.9 674.8,383.9 668.1,384.7 664.4,381.5 663.8,378.3M727.0,344.5 725.1,339.1 720.2,337.2 716.2,340.4 711.7,338.7 707.2,341.6 703.5,344.9 700.8,346.8 700.8,336.8M700.8,336.8 685.4,336.8 685.4,318.8M700.8,336.8 755.8,336.8M755.8,336.8 757.1,360.9 766.8,361.1M763.8,369.1 757.8,370.0 754.4,370.6M761.3,335.2 759.3,334.4 757.1,334.8 755.8,336.8M761.3,335.2 766.0,332.3 771.2,327.4 766.8,323.2 764.5,318.7 766.0,312.8 769.7,308.8 772.0,304.7M772.0,304.7 783.9,311.8M772.0,304.7 766.8,299.9 766.8,294.9 762.3,291.9 696.7,291.9 696.7,286.5M792.1,230.3 792.1,238.7 791.0,249.1 791.3,258.4 793.5,260.5 793.2,276.8M793.2,276.8 789.8,290.9M789.8,290.9 789.5,305.8 786.4,309.8 787.6,311.8M819.6,230.1 818.1,239.8 812.1,243.9 811.1,250.2 808.9,256.4 806.2,264.6 805.5,271.7 804.0,274.8 805.3,277.2M805.3,277.2 793.2,276.8M825.8,224.0 827.0,245.0 827.5,260.1 829.7,266.6 831.5,270.3M829.7,274.4 826.3,275.4 822.9,277.8 805.3,277.2M825.2,301.9 824.1,298.3 821.4,293.9 821.4,291.5 815.1,291.5M815.1,291.5 789.8,290.9M814.4,305.4 815.1,303.9 815.1,291.5" fill="none" stroke="#ffffff" stroke-opacity="0.42" stroke-width="0.7"/>
<path d="M139.7,505.1 139.7,576.5 145.3,577.8 150.3,584.7 153.7,582.9 156.9,580.0 158.7,582.9 161.5,586.0 163.4,588.4 166.5,595.6 168.1,598.5 173.1,602.0 174.0,606.5 172.8,609.3 170.0,607.1 168.1,604.8 167.2,601.4 165.0,598.0 162.8,594.4 160.9,590.8 158.4,588.4 155.6,587.2 152.8,588.4 149.4,586.3 146.6,583.8 143.4,581.0 138.5,578.8 133.8,578.1 130.3,578.4 127.2,576.2 124.1,575.2 121.6,572.6 117.9,572.3 116.9,576.2 113.8,578.8 110.4,582.2 105.7,583.5 106.0,580.3 107.3,577.2 107.6,573.9 110.4,571.9 112.2,571.0 113.2,569.3 109.7,570.3 106.3,572.9 104.1,576.5 102.3,579.7 99.5,582.5 98.8,584.7 100.7,586.6 98.2,590.2 94.5,593.2 91.0,597.1 86.7,600.3 82.0,603.7 79.2,605.1 77.3,606.3 76.4,604.8 78.5,602.6 83.5,598.0 86.7,593.8 88.2,589.0 89.5,586.0 85.4,586.0 84.8,585.0 82.0,586.6 79.5,585.0 76.4,586.6 73.7,586.9 75.1,584.1 74.2,579.1 72.3,577.5 68.6,579.7 66.1,576.5 64.2,574.6 63.6,571.3 61.4,568.6 61.7,565.3 64.2,561.1 65.8,558.0 70.4,558.0 73.9,555.1 77.0,554.4 77.9,548.2 75.7,547.5 71.7,548.6 67.9,547.1 63.6,547.5 60.1,546.0 57.3,541.1 55.1,539.2 61.4,534.1 66.4,531.7 68.9,531.7 68.6,534.9 73.6,535.7 76.4,533.7 74.5,531.3 72.3,528.5 68.9,527.2 67.6,522.7 63.6,519.3 59.2,516.7 61.1,512.3 67.9,511.4 71.1,504.6 74.5,499.0 80.4,495.7 86.0,493.8 91.3,490.3 96.0,492.8 100.7,493.8 104.8,494.2 108.5,497.6 113.2,497.1 116.6,499.0 124.1,500.5 130.3,501.4 135.0,503.3ZM104.4,591.4 104.8,593.8 102.3,596.8 99.1,598.2 97.0,595.0 99.5,592.0 102.3,590.2 103.8,588.1 105.4,589.0ZM43.9,555.5 48.3,556.9 52.7,557.3 53.3,556.2 49.2,554.1 44.5,553.0ZM57.3,577.2 61.1,579.7 62.9,578.4 62.6,576.2 60.1,575.5ZM164.7,609.3 167.8,609.6 166.8,606.0 164.7,601.4 162.8,600.9 162.8,604.8ZM159.4,601.4 160.3,597.4 158.4,593.2 156.5,590.2 153.7,590.2 155.6,595.0 157.5,598.5ZM161.9,596.2 162.2,593.2 160.3,589.6 159.0,590.8 160.0,595.0ZM75.4,607.4 72.6,608.5 69.8,609.9 70.1,608.2 72.9,606.5ZM69.8,609.6 65.4,611.3 65.1,609.9 68.6,608.2ZM61.4,614.0 58.6,616.4 56.1,617.5 58.3,614.8 60.1,613.4ZM55.8,617.0 52.7,619.6 52.0,619.1 54.5,616.4ZM49.5,620.4 46.7,621.5 47.0,620.4 49.2,619.6ZM43.0,622.8 39.9,623.8 35.2,624.1 35.8,622.5 40.5,622.0ZM30.8,625.1 27.7,626.1 26.1,625.6 28.9,624.3ZM25.2,626.1 23.3,626.4 23.6,624.9 24.9,624.9Z" fill="#66d2d3"/>
<path d="M281.0,589.1 285.3,591.4 291.4,593.8 293.6,597.5 297.4,601.2 294.4,604.3 289.8,606.4 284.1,610.9 280.4,608.0 280.7,601.6 278.4,597.5 281.8,593.5ZM268.6,578.1 270.1,576.8 272.1,578.9 275.4,578.1 279.2,580.5 279.2,582.5 273.1,584.1 272.1,580.8 268.9,579.7ZM244.5,568.0 248.8,565.8 251.1,568.3 254.1,572.4 251.8,573.2 247.3,572.4 245.8,569.9ZM229.5,560.1 229.0,558.5 227.6,557.4 225.7,557.0 223.8,557.4 222.4,558.5 221.9,560.1 222.4,561.7 223.8,562.8 225.7,563.2 227.6,562.8 229.0,561.7ZM259.4,575.6 260.2,573.7 268.3,574.5 266.0,576.4ZM266.6,580.0 266.1,579.1 265.1,578.7 264.0,579.1 263.5,580.0 264.0,580.9 265.1,581.3 266.1,580.9ZM214.6,564.2 216.9,563.4 217.6,560.9 216.1,560.9ZM271.1,584.6 270.6,583.9 269.5,583.9 269.0,584.6 269.5,585.3 270.6,585.3Z" fill="#66d2d3"/>
<path d="M51.0,155.4 53.3,155.4 56.2,153.2 56.2,150.2 53.3,149.8 50.3,152.0 Z" fill="#66d2d3"/>
<path d="M57.0,157.0 60.0,158.8 61.9,164.4 62.5,167.2 60.7,165.9 58.9,161.0 Z" fill="#66d2d3"/>
<path d="M555.9,168.1 560.7,165.9 567.4,161.5 562.9,162.8 557.7,165.9 Z" fill="#fdc513"/>
<path d="M99.1,442.0 104.6,442.3 105.0,443.6 99.7,444.0 Z" fill="#35a6ab"/>
<path d="M94.2,443.2 98.2,443.2 97.9,445.0 94.9,445.0 Z" fill="#35a6ab"/>
<path d="M118.7,452.5 122.9,454.9 122.9,455.8 119.5,454.3 Z" fill="#35a6ab"/>
<path d="M118.7,460.5 122.5,464.3 121.4,464.6 118.4,461.4 Z" fill="#35a6ab"/>
<path d="M104.2,456.1 106.4,457.2 106.1,457.5 104.2,457.0 Z" fill="#35a6ab"/>
<path d="M829.6,304.7 833.0,302.5 835.2,304.3 831.5,305.2 Z" fill="#66d2d3"/>
<path d="M838.2,305.8 841.2,305.2 842.4,306.8 838.9,307.0 Z" fill="#66d2d3"/>
<path d="M537.9,509.7 539.8,507.4 544.3,507.8 547.3,509.7 545.8,512.1 542.1,512.9 538.7,511.7 Z" fill="#fff"/>
<path d="M748.2,388.4 743.0,386.5 737.7,383.2" fill="none" stroke="#fff" stroke-width="1.1" stroke-linecap="round" stroke-linejoin="round"/>
<path d="M746.7,383.4 740.7,379.0" fill="none" stroke="#fff" stroke-width="1.1" stroke-linecap="round" stroke-linejoin="round"/>
<path d="M748.2,376.8 743.7,373.4 738.5,368.7" fill="none" stroke="#fff" stroke-width="1.1" stroke-linecap="round" stroke-linejoin="round"/>
<path d="M747.4,369.6 742.2,366.4 737.7,364.0" fill="none" stroke="#fff" stroke-width="1.1" stroke-linecap="round" stroke-linejoin="round"/>
<path d="M756.8,406.4 749.7,405.8 743.0,407.5" fill="none" stroke="#fff" stroke-width="1.1" stroke-linecap="round" stroke-linejoin="round"/>
<path d="M751.9,405.1 751.1,400.5" fill="none" stroke="#fff" stroke-width="1.1" stroke-linecap="round" stroke-linejoin="round"/>
<path d="M749.7,424.8 744.4,424.3 738.5,423.4" fill="none" stroke="#fff" stroke-width="1.1" stroke-linecap="round" stroke-linejoin="round"/>
<path d="M752.9,419.7 745.2,417.9 738.5,416.1" fill="none" stroke="#fff" stroke-width="1.1" stroke-linecap="round" stroke-linejoin="round"/>
<line x1="799.0" y1="220.3" x2="801.2" y2="239.1" stroke="#9c9c9c" stroke-width="0.55"/>
<line x1="820.0" y1="265.5" x2="845.0" y2="277.5" stroke="#9c9c9c" stroke-width="0.55"/>
<line x1="827.2" y1="290.4" x2="857.0" y2="296.2" stroke="#9c9c9c" stroke-width="0.55"/>
<line x1="824.3" y1="300.3" x2="846.8" y2="316.2" stroke="#9c9c9c" stroke-width="0.55"/>
<line x1="805.5" y1="298.8" x2="824.3" y2="335.8" stroke="#9c9c9c" stroke-width="0.55"/>
<line x1="782.3" y1="334.4" x2="814.6" y2="356.9" stroke="#9c9c9c" stroke-width="0.55"/>
<line x1="763.2" y1="350.4" x2="797.5" y2="378.0" stroke="#9c9c9c" stroke-width="0.55"/>
<line x1="740.3" y1="344.3" x2="780.1" y2="395.4" stroke="#9c9c9c" stroke-width="0.55"/>
<text x="0.4" y="32.0" font-size="30" font-weight="bold" style="fill:#0a0a0a" textLength="393" lengthAdjust="spacingAndGlyphs">Abortion policies in the U.S.</text>
<text x="0.6" y="57.7" font-size="15.3" stroke="#1a1a1a" stroke-width="0.15" textLength="522.1" lengthAdjust="spacingAndGlyphs">A year after the Dobbs v. Jackson Women’s Health Organization ruling, which</text>
<text x="0.6" y="75.0" font-size="15.3" stroke="#1a1a1a" stroke-width="0.15" textLength="492.7" lengthAdjust="spacingAndGlyphs">eliminated a federal right to abortion, the landscape of abortion rights is</text>
<text x="0.6" y="92.3" font-size="15.3" stroke="#1a1a1a" stroke-width="0.15" textLength="558.7" lengthAdjust="spacingAndGlyphs">fragmented, with some states increasing protections and others restricting access.</text>
<text x="0.6" y="109.6" font-size="15.3" stroke="#1a1a1a" stroke-width="0.15" textLength="549.4" lengthAdjust="spacingAndGlyphs">The Guttmacher Institute, a research and policy organization, has grouped states</text>
<text x="0.6" y="126.9" font-size="15.3" stroke="#1a1a1a" stroke-width="0.15" textLength="463.7" lengthAdjust="spacingAndGlyphs">into seven categories based on abortion policies as of June 20, 2023.</text>
<text x="642.4" y="55.4" font-size="15.4" font-weight="bold" style="fill:#111" textLength="171.9" lengthAdjust="spacingAndGlyphs">Status of abortion rights</text>
<rect x="642.0" y="68.1" width="15.6" height="11.4" fill="#ad3400"/>
<text x="662.4" y="79.0" font-size="14.8" stroke="#1a1a1a" stroke-width="0.15" textLength="105.0" lengthAdjust="spacingAndGlyphs">Most restrictive</text>
<rect x="642.0" y="87.8" width="15.6" height="11.4" fill="#dc5b27"/>
<text x="662.4" y="98.7" font-size="14.8" stroke="#1a1a1a" stroke-width="0.15" textLength="101.1" lengthAdjust="spacingAndGlyphs">Very restrictive</text>
<rect x="642.0" y="107.5" width="15.6" height="11.4" fill="#ff8e6e"/>
<text x="662.4" y="118.4" font-size="14.8" stroke="#1a1a1a" stroke-width="0.15" textLength="71.1" lengthAdjust="spacingAndGlyphs">Restrictive</text>
<rect x="642.0" y="127.3" width="15.6" height="11.4" fill="#fdc513"/>
<text x="662.4" y="138.2" font-size="14.8" stroke="#1a1a1a" stroke-width="0.15" textLength="203.7" lengthAdjust="spacingAndGlyphs">Some restrictions/protections</text>
<rect x="642.0" y="147.0" width="15.6" height="11.4" fill="#66d2d3"/>
<text x="662.4" y="157.9" font-size="14.8" stroke="#1a1a1a" stroke-width="0.15" textLength="68.7" lengthAdjust="spacingAndGlyphs">Protective</text>
<rect x="642.0" y="166.7" width="15.6" height="11.4" fill="#35a6ab"/>
<text x="662.4" y="177.6" font-size="14.8" stroke="#1a1a1a" stroke-width="0.15" textLength="103.5" lengthAdjust="spacingAndGlyphs">Very protective</text>
<rect x="642.0" y="186.4" width="15.6" height="11.4" fill="#0a7a83"/>
<text x="662.4" y="197.3" font-size="14.8" stroke="#1a1a1a" stroke-width="0.15" textLength="107.1" lengthAdjust="spacingAndGlyphs">Most protective</text>
<text x="72.0" y="185.7" font-size="15.6" stroke="#1a1a1a" stroke-width="0.15" textLength="40.1" lengthAdjust="spacingAndGlyphs">Wash.</text>
<text x="233.3" y="189.9" font-size="15.6" stroke="#1a1a1a" stroke-width="0.15" textLength="39.8" lengthAdjust="spacingAndGlyphs">Mont.</text>
<text x="70.0" y="259.9" font-size="15.6" stroke="#1a1a1a" stroke-width="0.15" textLength="28.1" lengthAdjust="spacingAndGlyphs">Ore.</text>
<text x="156.7" y="265.6" font-size="15.6" stroke="#1a1a1a" stroke-width="0.15" textLength="39.1" lengthAdjust="spacingAndGlyphs">Idaho</text>
<text x="262.7" y="278.3" font-size="15.6" stroke="#1a1a1a" stroke-width="0.15" textLength="34.1" lengthAdjust="spacingAndGlyphs">Wyo.</text>
<text x="370.0" y="180.6" font-size="15.6" stroke="#1a1a1a" stroke-width="0.15" textLength="28.1" lengthAdjust="spacingAndGlyphs">N.D.</text>
<text x="457.3" y="207.9" font-size="15.6" stroke="#1a1a1a" stroke-width="0.15" textLength="39.5" lengthAdjust="spacingAndGlyphs">Minn.</text>
<text x="376.0" y="249.6" font-size="15.6" stroke="#1a1a1a" stroke-width="0.15" textLength="25.5" lengthAdjust="spacingAndGlyphs">S.D.</text>
<text x="528.7" y="243.3" font-size="15.6" stroke="#1a1a1a" stroke-width="0.15" textLength="28.1" lengthAdjust="spacingAndGlyphs">Wis.</text>
<text x="474.7" y="296.3" font-size="15.6" stroke="#1a1a1a" stroke-width="0.15" textLength="32.8" lengthAdjust="spacingAndGlyphs">Iowa</text>
<text x="382.3" y="308.9" font-size="15.6" stroke="#1a1a1a" stroke-width="0.15" textLength="31.8" lengthAdjust="spacingAndGlyphs">Neb.</text>
<text x="548.3" y="333.3" font-size="15.6" stroke="#1a1a1a" stroke-width="0.15" textLength="15.5" lengthAdjust="spacingAndGlyphs">Ill.</text>
<text x="791.4" y="216.3" font-size="15.6" stroke="#1a1a1a" stroke-width="0.15" textLength="17.4" lengthAdjust="spacingAndGlyphs">Vt.</text>
<text x="837.0" y="233.2" font-size="15.6" stroke="#1a1a1a" stroke-width="0.15" textLength="42.2" lengthAdjust="spacingAndGlyphs">Maine</text>
<text x="756.0" y="280.6" font-size="15.6" stroke="#1a1a1a" stroke-width="0.15" textLength="25.5" lengthAdjust="spacingAndGlyphs">N.Y.</text>
<text x="849.7" y="283.2" font-size="15.6" stroke="#1a1a1a" stroke-width="0.15" textLength="28.3" lengthAdjust="spacingAndGlyphs">N.H.</text>
<text x="859.6" y="303.1" font-size="15.6" stroke="#1a1a1a" stroke-width="0.15" textLength="37.3" lengthAdjust="spacingAndGlyphs">Mass.</text>
<text x="606.7" y="277.9" font-size="15.6" stroke="#1a1a1a" stroke-width="0.15" textLength="37.4" lengthAdjust="spacingAndGlyphs">Mich.</text>
<text x="849.4" y="322.6" font-size="15.6" stroke="#1a1a1a" stroke-width="0.15" textLength="19.2" lengthAdjust="spacingAndGlyphs">R.I.</text>
<text x="828.0" y="342.2" font-size="15.6" stroke="#1a1a1a" stroke-width="0.15" textLength="39.6" lengthAdjust="spacingAndGlyphs">Conn.</text>
<text x="817.6" y="361.8" font-size="15.6" stroke="#1a1a1a" stroke-width="0.15" textLength="23.2" lengthAdjust="spacingAndGlyphs">N.J.</text>
<text x="800.0" y="381.5" font-size="15.6" stroke="#1a1a1a" stroke-width="0.15" textLength="25.9" lengthAdjust="spacingAndGlyphs">Del.</text>
<text x="783.0" y="401.0" font-size="15.6" stroke="#1a1a1a" stroke-width="0.15" textLength="25.8" lengthAdjust="spacingAndGlyphs">Md.</text>
<text x="719.0" y="322.3" font-size="15.6" stroke="#1a1a1a" stroke-width="0.15" textLength="19.5" lengthAdjust="spacingAndGlyphs">Pa.</text>
<text x="635.0" y="333.6" font-size="15.6" stroke="#1a1a1a" stroke-width="0.15" textLength="33.1" lengthAdjust="spacingAndGlyphs">Ohio</text>
<text x="660.0" y="368.3" font-size="15.6" stroke="#1a1a1a" stroke-width="0.15" textLength="35.8" lengthAdjust="spacingAndGlyphs">W.Va.</text>
<text x="706.0" y="383.3" font-size="15.6" stroke="#1a1a1a" stroke-width="0.15" textLength="20.8" lengthAdjust="spacingAndGlyphs">Va.</text>
<text x="612.7" y="386.8" font-size="15.6" stroke="#1a1a1a" stroke-width="0.15" textLength="19.6" lengthAdjust="spacingAndGlyphs">Ky.</text>
<text x="694.2" y="422.2" font-size="15.6" stroke="#1a1a1a" stroke-width="0.15" textLength="27.6" lengthAdjust="spacingAndGlyphs">N.C.</text>
<text x="124.0" y="352.3" font-size="15.6" stroke="#1a1a1a" stroke-width="0.15" textLength="30.1" lengthAdjust="spacingAndGlyphs">Nev.</text>
<text x="202.3" y="352.3" font-size="15.6" stroke="#1a1a1a" stroke-width="0.15" textLength="33.5" lengthAdjust="spacingAndGlyphs">Utah</text>
<text x="86.0" y="406.6" font-size="15.6" stroke="#1a1a1a" stroke-width="0.15" textLength="34.1" lengthAdjust="spacingAndGlyphs">Calif.</text>
<text x="200.7" y="446.3" font-size="15.6" stroke="#1a1a1a" stroke-width="0.15" textLength="30.1" lengthAdjust="spacingAndGlyphs">Ariz.</text>
<text x="284.0" y="446.3" font-size="15.6" stroke="#1a1a1a" stroke-width="0.15" textLength="30.8" lengthAdjust="spacingAndGlyphs">N.M.</text>
<text x="291.5" y="359.6" font-size="15.6" stroke="#1a1a1a" stroke-width="0.15" textLength="35.3" lengthAdjust="spacingAndGlyphs">Colo.</text>
<text x="401.7" y="368.9" font-size="15.6" stroke="#1a1a1a" stroke-width="0.15" textLength="29.8" lengthAdjust="spacingAndGlyphs">Kan.</text>
<text x="494.0" y="371.6" font-size="15.6" stroke="#1a1a1a" stroke-width="0.15" textLength="26.8" lengthAdjust="spacingAndGlyphs">Mo.</text>
<text x="415.0" y="425.6" font-size="15.6" stroke="#1a1a1a" stroke-width="0.15" textLength="34.8" lengthAdjust="spacingAndGlyphs">Okla.</text>
<text x="491.7" y="437.1" font-size="15.6" stroke="#1a1a1a" stroke-width="0.15" textLength="27.1" lengthAdjust="spacingAndGlyphs">Ark.</text>
<text x="533.6" y="473.3" font-size="15.6" stroke="#1a1a1a" stroke-width="0.15" textLength="33.9" lengthAdjust="spacingAndGlyphs">Miss.</text>
<text x="394.3" y="501.8" font-size="15.6" stroke="#1a1a1a" stroke-width="0.15" textLength="37.2" lengthAdjust="spacingAndGlyphs">Texas</text>
<text x="495.4" y="501.0" font-size="15.6" stroke="#1a1a1a" stroke-width="0.15" textLength="18.9" lengthAdjust="spacingAndGlyphs">La.</text>
<text x="581.0" y="475.3" font-size="15.6" stroke="#1a1a1a" stroke-width="0.15" textLength="25.8" lengthAdjust="spacingAndGlyphs">Ala.</text>
<text x="577.6" y="420.1" font-size="15.6" stroke="#1a1a1a" stroke-width="0.15" textLength="37.2" lengthAdjust="spacingAndGlyphs">Tenn.</text>
<text x="589.0" y="338.1" font-size="15.6" stroke="#1a1a1a" stroke-width="0.15" textLength="25.8" lengthAdjust="spacingAndGlyphs">Ind.</text>
<text x="671.7" y="455.6" font-size="15.6" stroke="#1a1a1a" stroke-width="0.15" textLength="25.1" lengthAdjust="spacingAndGlyphs">S.C.</text>
<text x="634.3" y="479.6" font-size="15.6" stroke="#1a1a1a" stroke-width="0.15" textLength="23.2" lengthAdjust="spacingAndGlyphs">Ga.</text>
<text x="658.3" y="552.9" font-size="15.6" stroke="#1a1a1a" stroke-width="0.15" textLength="23.5" lengthAdjust="spacingAndGlyphs">Fla.</text>
<text x="85.2" y="548.8" font-size="15.6" stroke="#1a1a1a" stroke-width="0.15" textLength="43.4" lengthAdjust="spacingAndGlyphs">Alaska</text>
<text x="216.7" y="596.9" font-size="15.6" stroke="#1a1a1a" stroke-width="0.15" textLength="46.5" lengthAdjust="spacingAndGlyphs">Hawaii</text>
</svg>
</body></html>
